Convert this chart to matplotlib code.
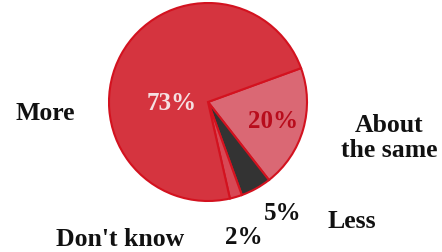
import matplotlib
matplotlib.use("Agg")
import matplotlib.pyplot as plt

# data
labels = ["About the same", "Less", "Don't know", "More"]
values = [20, 5, 2, 73]
pct_text = ["20%", "5%", "2%", "73%"]

colors = ["#da6874", "#333333", "#d84855", "#d5343f"]
edge = "#d3121f"

W, H = 442, 252
fig = plt.figure(figsize=(W / 100, H / 100), dpi=100)

# pie axes placed in pixel terms
cx, cy, r = 208, 102, 99
ax = fig.add_axes([(cx - r) / W, (H - cy - r) / H, 2 * r / W, 2 * r / H])
ax.pie(values, colors=colors, startangle=20, counterclock=False,
       wedgeprops=dict(edgecolor=edge, linewidth=1.5))
ax.set_xlim(-1, 1)
ax.set_ylim(-1, 1)
ax.set_aspect("auto")
ax.axis("off")

font = dict(family="Liberation Serif", weight="bold")


def px(x, y):
    return x / W, 1 - y / H


# percent labels
fig.text(*px(172, 104), pct_text[3], color="#f5e0e2", fontsize=18, ha="center", va="center", **font)
fig.text(*px(273, 121), pct_text[0], color="#b80c1c", fontsize=18, ha="center", va="center", **font)
fig.text(*px(283, 214), pct_text[1], color="#111111", fontsize=18, ha="center", va="center", **font)
fig.text(*px(244, 237), pct_text[2], color="#111111", fontsize=18, ha="center", va="center", **font)

# category labels
fig.text(*px(45, 113), labels[3], color="#111111", fontsize=18.5, ha="center", va="center", **font)
fig.text(*px(389, 138), "About\nthe same", color="#111111", fontsize=18.5, ha="center", va="center",
         linespacing=1.1, **font)
fig.text(*px(352, 222), labels[1], color="#111111", fontsize=18.5, ha="center", va="center", **font)
fig.text(*px(120, 240), labels[2], color="#111111", fontsize=18.5, ha="center", va="center", **font)

fig.savefig("out.png", dpi=100, facecolor="white")
